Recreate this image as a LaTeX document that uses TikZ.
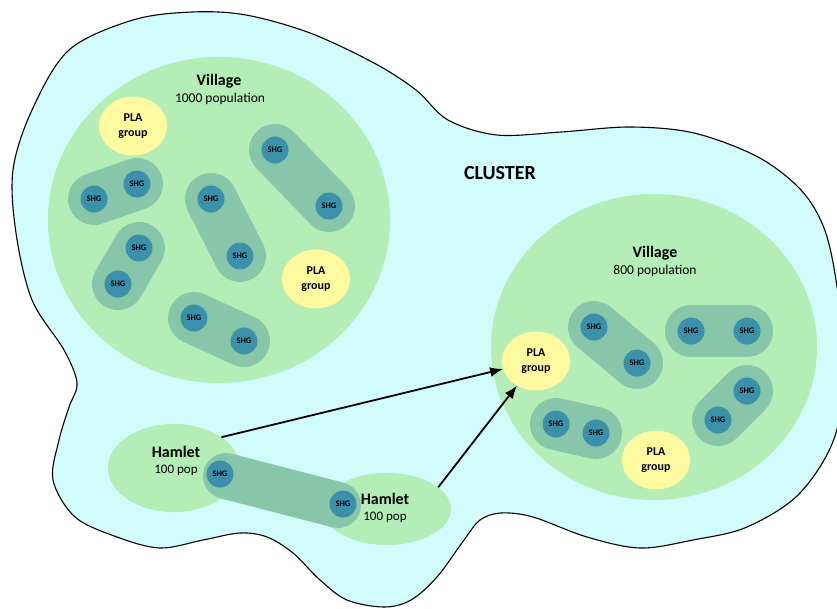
\documentclass[tikz,border=0pt]{standalone}
\usepackage{fontspec}
\setmainfont{Carlito}
\usetikzlibrary{arrows.meta,shapes.geometric}
\definecolor{clusterfill}{HTML}{D2FBFB}
\definecolor{villagefill}{HTML}{B4EDB6}
\definecolor{blobfill}{HTML}{87C6A9}
\definecolor{shgfill}{HTML}{3B91A9}
\definecolor{plafill}{HTML}{FFFAA0}
\tikzset{
  area/.style={ellipse, fill=villagefill, inner sep=0pt},
  blob/.style={draw=blobfill, line width=52pt, line cap=round},
  shg/.style={circle, fill=shgfill, inner sep=0pt, minimum size=27pt,
    font=\fontsize{8.5}{9}\selectfont\bfseries},
  pla/.style={ellipse, fill=plafill, inner sep=0pt, minimum width=68pt,
    minimum height=59pt, align=center,
    font=\fontsize{12}{15}\selectfont\bfseries},
  titletext/.style={font=\fontsize{16}{18}\selectfont\bfseries, inner sep=0pt},
  poptext/.style={font=\fontsize{13.5}{15}\selectfont, inner sep=0pt},
  link/.style={line width=1.8pt, -{Latex[length=13pt,width=10pt]}}
}
\begin{document}
\begin{tikzpicture}[x=1pt,y=-1pt]
\useasboundingbox (0,0) rectangle (837,608);

% cluster outline
\draw[fill=clusterfill, line width=1.1pt] plot[smooth cycle, tension=0.55] coordinates {
  (192,12) (246,15) (310,33) (374,63) (416,90) (448,120) (497,135)
  (561,132) (630,127) (694,133) (758,157) (801,190) (824,228) (836,280)
  (843,350) (836,433) (800,493) (747,527) (693,540) (640,548) (587,537)
  (533,517) (501,513) (480,520) (464,540) (437,577) (411,600) (384,607)
  (347,600) (320,580) (293,553) (267,537) (240,533) (203,540) (160,548)
  (117,537) (75,517) (53,480) (59,440) (69,407) (77,383) (64,350)
  (32,300) (16,233) (13,170) (32,110) (69,50) (133,20)};

% villages and hamlets
\node[area, minimum width=342pt, minimum height=326pt] (v1) at (219,220) {};
\node[area, minimum width=326pt, minimum height=306pt] (v2) at (654,347) {};
\node[area, minimum width=132pt, minimum height=88pt] (h1) at (174,468) {};
\node[area, minimum width=128pt, minimum height=72pt] (h2) at (387,509) {};

% SHG positions
\coordinate (pa1) at (94,199);  \coordinate (pa2) at (137,184);
\coordinate (pb1) at (139,248); \coordinate (pb2) at (118,284);
\coordinate (pc1) at (211,199); \coordinate (pc2) at (240,256);
\coordinate (pd1) at (275,150); \coordinate (pd2) at (329,206);
\coordinate (pe1) at (194,318); \coordinate (pe2) at (244,341);
\coordinate (pf1) at (594,327); \coordinate (pf2) at (637,363);
\coordinate (pg1) at (691,331); \coordinate (pg2) at (747,331);
\coordinate (ph1) at (747,391); \coordinate (ph2) at (718,420);
\coordinate (pi1) at (556,424); \coordinate (pi2) at (596,433);
\coordinate (pj1) at (220,474); \coordinate (pj2) at (343,504);

% groups of SHGs
\foreach \g in {a,b,c,d,e,f,g,h,i}
  \draw[blob] (p\g1) -- (p\g2);
% the group shared by the two hamlets
\draw[blob, line width=46pt] (226,476) -- (338,505);

% SHG circles
\foreach \g in {a,b,c,d,e,f,g,h,i,j}{
  \node[shg] (s\g1) at (p\g1) {SHG};
  \node[shg] (s\g2) at (p\g2) {SHG};
}

% PLA groups
\node[pla] (pla1) at (133,126) {PLA\\group};
\node[pla] (pla2) at (316,279) {PLA\\group};
\node[pla] (pla3) at (536,361) {PLA\\group};
\node[pla] (pla4) at (656,460) {PLA\\group};

% labels
\node[titletext] (t1) at (219,81) {Village};
\node[poptext] (p1) at (220,99) {1000 population};
\node[titletext] (t2) at (655,253) {Village};
\node[poptext] (p2) at (655,271) {800 population};
\node[titletext] (t3) at (176,452) {Hamlet};
\node[poptext, font=\fontsize{13}{15}\selectfont] (p3) at (176,470) {100 pop};
\node[titletext] (t4) at (385,499) {Hamlet};
\node[poptext, font=\fontsize{13}{15}\selectfont] (p4) at (385,517) {100 pop};
\node[font=\fontsize{20}{22}\selectfont\bfseries, inner sep=0pt] (cl) at (500,173) {CLUSTER};

% links from hamlets to the PLA group
\draw[link] (h1.33) -- (pla3);
\draw[link] (h2.23) -- (pla3);
\end{tikzpicture}
\end{document}
